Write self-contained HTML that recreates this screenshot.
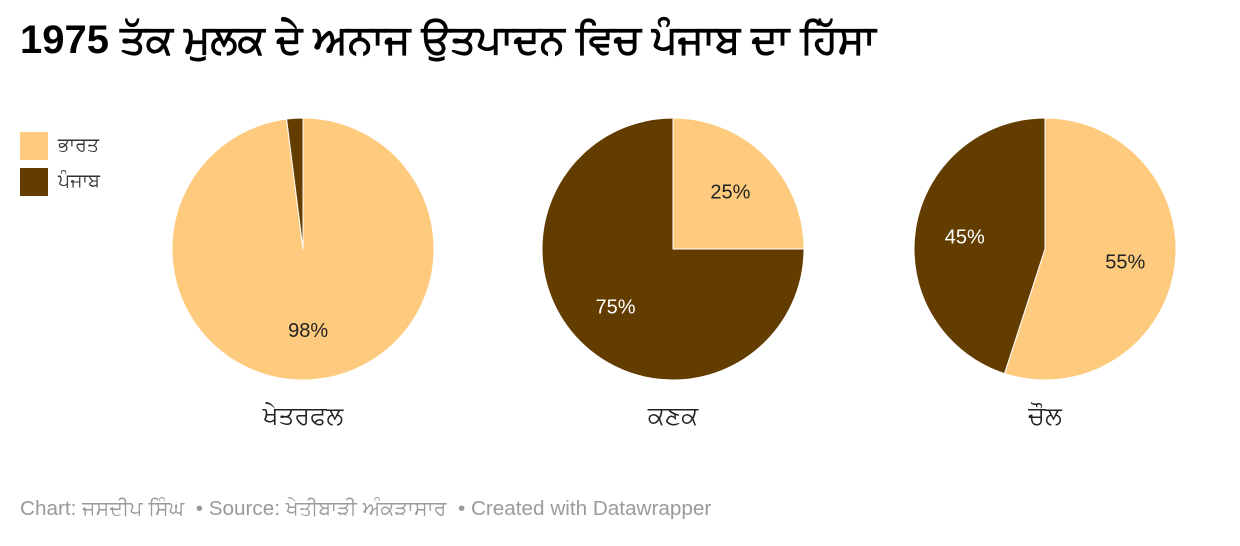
<!DOCTYPE html>
<html><head><meta charset="utf-8">
<style>
body{margin:0;width:1240px;height:546px;background:#fff;font-family:"Liberation Sans","Noto Sans CJK SC",sans-serif;overflow:hidden;position:relative}
#title{position:absolute;left:20px;top:18px;font-size:40px;font-weight:bold;color:#000;white-space:nowrap}
#legend{position:absolute;left:20px;top:128px;font-size:19px;color:#333}
.li{display:flex;align-items:center;height:36px}
.sw{width:28px;height:28px;margin-right:10px}
#foot{position:absolute;left:20px;top:497px;font-size:20.7px;color:#9a9a9a;white-space:nowrap}
</style></head><body>
<div id="title">1975 ਤੱਕ ਮੁਲਕ ਦੇ ਅਨਾਜ ਉਤਪਾਦਨ ਵਿਚ ਪੰਜਾਬ ਦਾ ਹਿੱਸਾ</div>
<div id="legend">
<div class="li"><div class="sw" style="background:#fecb7e"></div>ਭਾਰਤ</div>
<div class="li"><div class="sw" style="background:#633c00"></div>ਪੰਜਾਬ</div>
</div>
<svg id="chart" width="1240" height="546" style="position:absolute;left:0;top:0"></svg>
<div id="foot">Chart: ਜਸਦੀਪ ਸਿੰਘ &nbsp;• Source: ਖੇਤੀਬਾੜੀ ਅੰਕੜਾਸਾਰ &nbsp;• Created with Datawrapper</div>
<script>
const categories=["ਖੇਤਰਫਲ","ਕਣਕ","ਚੌਲ"];
const bharatValues=[98,25,55];
const punjabValues=[2,75,45];
const colors=["#fecb7e","#633c00"];
const centersX=[303,673,1045];
const cy=249,R=131;
const svg=document.getElementById('chart');
const NS="http://www.w3.org/2000/svg";
function pt(a,r,cx){return [cx+r*Math.sin(a),cy-r*Math.cos(a)];}
categories.forEach((cat,i)=>{
  const cx=centersX[i];
  const vals=[bharatValues[i],punjabValues[i]];
  const tot=vals[0]+vals[1];
  let a0=0;
  vals.forEach((v,j)=>{
    const a1=a0+v/tot*2*Math.PI;
    const p=document.createElementNS(NS,'path');
    const [x0,y0]=pt(a0,R,cx),[x1,y1]=pt(a1,R,cx);
    p.setAttribute('d',`M${cx},${cy}L${x0},${y0}A${R},${R} 0 ${a1-a0>Math.PI?1:0} 1 ${x1},${y1}Z`);
    p.setAttribute('fill',colors[j]);p.setAttribute('stroke','#fff');p.setAttribute('stroke-width','1');
    
    
    svg.appendChild(p);
    if(v>=5){
      const [lx,ly]=pt((a0+a1)/2,R*0.62,cx);
      const t=document.createElementNS(NS,'text');
      t.setAttribute('x',lx);t.setAttribute('y',ly+7);t.setAttribute('text-anchor','middle');
      t.setAttribute('font-size','20');t.setAttribute('fill',j==0?'#222':'#fff');
      t.setAttribute('font-family','Liberation Sans, sans-serif');
      t.textContent=v+'%';
      
      
      svg.appendChild(t);
    }
    a0=a1;
  });
  const c=document.createElementNS(NS,'text');
  c.setAttribute('x',cx);c.setAttribute('y',424);c.setAttribute('text-anchor','middle');
  c.setAttribute('font-size','25');c.setAttribute('fill','#222');
  c.textContent=cat;
  
  
  svg.appendChild(c);
});
</script>
</body></html>
